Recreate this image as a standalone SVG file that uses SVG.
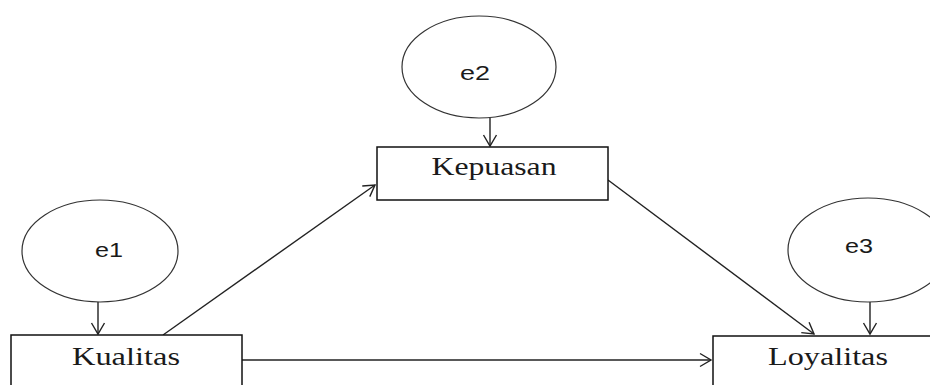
<svg xmlns="http://www.w3.org/2000/svg" width="930" height="385" viewBox="0 0 930 385">
<style>
.box{fill:#fff;stroke:#111;stroke-width:1.5}
.err{fill:#fff;stroke:#333;stroke-width:1.2}
.lbl{font-family:"Liberation Serif","Times New Roman",serif;font-size:26px;fill:#1a1a1a;text-anchor:middle}
.elbl{font-family:"Liberation Sans",Arial,sans-serif;font-size:21px;fill:#1a1a1a;text-anchor:middle}
.con{stroke:#222;stroke-width:1.4;fill:none;marker-end:url(#ah)}
</style>
<defs>
<marker id="ah" markerUnits="userSpaceOnUse" markerWidth="16" markerHeight="16" viewBox="-14 -8 16 16" refX="0" refY="0" orient="auto">
<path d="M-11,-6.5 L0,0 L-11,6.5" fill="none" stroke="#222" stroke-width="1.4"/>
</marker>
</defs>
<rect width="930" height="385" fill="#fff"/>
<g id="connectors">
<line class="con" x1="98" y1="302" x2="98" y2="334"/>
<line class="con" x1="490" y1="118" x2="490" y2="146"/>
<line class="con" x1="870" y1="302" x2="870" y2="334"/>
<line class="con" x1="163" y1="335" x2="375" y2="185"/>
<line class="con" x1="608" y1="180" x2="814" y2="334"/>
<line class="con" x1="242" y1="360" x2="711" y2="360"/>
</g>
<g id="e1">
<ellipse class="err" cx="100" cy="251" rx="78" ry="51"/>
<text class="elbl" x="109" y="257" textLength="28" lengthAdjust="spacingAndGlyphs">e1</text>
</g>
<g id="e2">
<ellipse class="err" cx="479" cy="67" rx="77" ry="51"/>
<text class="elbl" x="475" y="80" textLength="30" lengthAdjust="spacingAndGlyphs">e2</text>
</g>
<g id="e3">
<ellipse class="err" cx="868" cy="250" rx="80" ry="52"/>
<text class="elbl" x="859" y="253" textLength="28" lengthAdjust="spacingAndGlyphs">e3</text>
</g>
<g id="kualitas">
<rect class="box" x="11" y="335" width="231" height="60"/>
<text class="lbl" x="126" y="365" textLength="108" lengthAdjust="spacingAndGlyphs">Kualitas</text>
</g>
<g id="kepuasan">
<rect class="box" x="377" y="147" width="231" height="53"/>
<text class="lbl" x="494" y="175" textLength="125" lengthAdjust="spacingAndGlyphs">Kepuasan</text>
</g>
<g id="loyalitas">
<rect class="box" x="713" y="336" width="240" height="60"/>
<text class="lbl" x="828" y="365" textLength="120" lengthAdjust="spacingAndGlyphs">Loyalitas</text>
</g>
</svg>
